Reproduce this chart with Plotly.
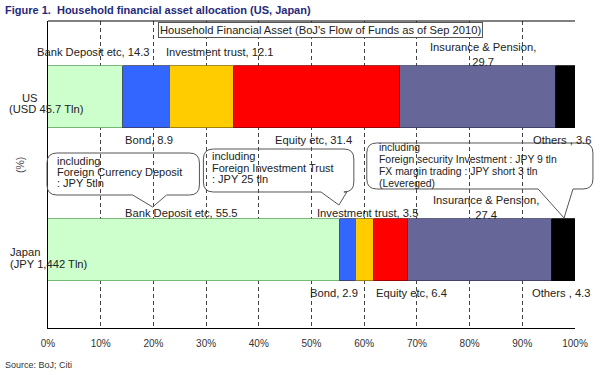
import plotly.graph_objects as go

# ---------------- data ----------------
countries = ["Japan", "US"]
segments = ["Bank Deposit etc", "Bond", "Investment trust", "Equity etc",
            "Insurance & Pension", "Others"]
us_values = [14.3, 8.9, 12.1, 31.4, 29.7, 3.6]
japan_values = [55.5, 2.9, 3.5, 6.4, 27.4, 4.3]
x_ticks = [0, 10, 20, 30, 40, 50, 60, 70, 80, 90, 100]
tick_labels = [f"{t}%" for t in x_ticks]
label_names = ["Bank Deposit etc", "Bond", "Investment trust", "Equity etc",
               "Insurance & Pension", "Others "]
label_seps = [", ", ", ", ", ", ", ", ",<br>", ", "]
country_labels = {"US": ["US", "(USD 45.7 Tln)"], "Japan": ["Japan", "(JPY 1,442 Tln)"]}
callout_lines = [
    ["including", "Foreign Currency Deposit", ": JPY 5tln"],
    ["including", "Foreign Investment Trust", ": JPY 25 tln"],
    ["including", "Foreign security Investment : JPY 9 tln",
     "FX margin trading : JPY short 3 tln", "(Levereged)"],
]

# ---------------- styles ----------------
colors = ["#CCFFCC", "#3366FF", "#FFCC00", "#FF0000", "#666699", "#000000"]
edges = ["#5FA85F", "#3A3A60", "#8A7000", "#8A0000", "#3A3A60", "#000000"]
FONT = "Liberation Sans, Arial, sans-serif"
TXT = "#222222"
LBL = 11.2

W, H = 600, 375
L, R, T, B = 48, 577, 21, 328


def px(x):
    return (x - L) / (R - L)


def py(y):
    return (B - y) / (B - T)


fig = go.Figure()
for i, seg in enumerate(segments):
    fig.add_trace(go.Bar(
        y=countries,
        x=[japan_values[i], us_values[i]],
        orientation="h",
        name=seg,
        width=0.405,
        marker=dict(color=colors[i], line=dict(color=edges[i], width=0.8)),
        showlegend=False,
    ))

annotations = []


def add_text(text, x, y, xanchor="center", align="center", size=LBL, **kw):
    annotations.append(dict(
        text=text, x=px(x), y=py(y), xref="paper", yref="paper",
        xanchor=xanchor, yanchor="middle", align=align, showarrow=False,
        font=dict(family=FONT, size=size, color=kw.pop("color", TXT),
                  weight=kw.pop("weight", "normal")), **kw))


# segment labels (text built from data)
us_pos = [(94, 52), (149, 140), (221, 52), (315, 140), (485, 54), (564, 140)]
jp_pos = [(182.5, 213), (335, 293), (368.5, 213), (413, 293), (488, 207.5), (563, 293)]
for i in range(len(segments)):
    add_text(f"{label_names[i]}{label_seps[i]}{us_values[i]}", *us_pos[i])
    add_text(f"{label_names[i]}{label_seps[i]}{japan_values[i]}", *jp_pos[i])

# country labels
add_text(country_labels["US"][0], 29.5, 98)
add_text(country_labels["US"][1], 7, 109, xanchor="left")
add_text(country_labels["Japan"][0], 8, 252, xanchor="left")
add_text(country_labels["Japan"][1], 8, 264, xanchor="left")

# axis unit
add_text("(%)", 20, 165, textangle=-90, color="#444", size=10.5)

# boxed subtitle
add_text("Household Financial Asset (BoJ's Flow of Funds as of Sep 2010)", 322, 30,
         size=11.2, bordercolor="#555555", borderwidth=1, borderpad=1, bgcolor="white")

# callout texts (one annotation per line)
callout_layout = [(55, 161, 11, 11.0), (211, 156, 11.5, 11.0), (378, 147, 12, 10.4)]
for lines, (x0, y0, step, size) in zip(callout_lines, callout_layout):
    for k, line in enumerate(lines):
        add_text(line, x0, y0 + k * step, xanchor="left", align="left", size=size)

# title & source
add_text("Figure 1.  Household financial asset allocation (US, Japan)", 3, 10,
         xanchor="left", size=11, color="#1F2A7A", weight="bold")
add_text("Source: BoJ; Citi", 3, 365, xanchor="left", size=9, color="#333")


def callout_path(x0, y0, x1, y1, bx0, bx1, tx, ty, r=10):
    def P(x, y):
        return f"{px(x):.5f},{py(y):.5f}"
    pts = [
        f"M{P(x0 + r, y0)}",
        f"L{P(x1 - r, y0)}",
        f"Q{P(x1, y0)} {P(x1, y0 + r)}",
        f"L{P(x1, y1 - r)}",
        f"Q{P(x1, y1)} {P(x1 - r, y1)}",
        f"L{P(bx1, y1)}",
        f"L{P(tx, ty)}",
        f"L{P(bx0, y1)}",
        f"L{P(x0 + r, y1)}",
        f"Q{P(x0, y1)} {P(x0, y1 - r)}",
        f"L{P(x0, y0 + r)}",
        f"Q{P(x0, y0)} {P(x0 + r, y0)}",
        "Z",
    ]
    return " ".join(pts)


shapes = [
    dict(type="line", xref="paper", yref="paper", x0=0, x1=1, y0=1, y1=1,
         line=dict(color="black", width=1)),
    dict(type="path", xref="paper", yref="paper",
         path=callout_path(47, 153, 200, 195, 133, 167, 153, 207),
         line=dict(color="#555555", width=1)),
    dict(type="path", xref="paper", yref="paper",
         path=callout_path(204, 149, 355, 192, 322, 348, 340, 205),
         line=dict(color="#555555", width=1)),
    dict(type="path", xref="paper", yref="paper",
         path=callout_path(368, 143, 595, 189, 540, 575, 566, 218),
         line=dict(color="#555555", width=1)),
]

fig.update_layout(
    width=W, height=H, autosize=False,
    margin=dict(l=L, r=W - R, t=T, b=H - B, pad=0),
    barmode="stack", bargap=0,
    plot_bgcolor="white", paper_bgcolor="white",
    font=dict(family=FONT, size=10, color=TXT),
    annotations=annotations, shapes=shapes,
    xaxis=dict(range=[0, 100], tickvals=x_ticks, ticktext=tick_labels,
               showgrid=True, gridcolor="#444444", griddash="4px,3px", gridwidth=1,
               showline=True, linecolor="black", linewidth=1, zeroline=False,
               ticks="outside", ticklen=6, tickcolor="rgba(0,0,0,0)",
               tickfont=dict(family=FONT, size=10, color="#333")),
    yaxis=dict(type="category", categoryarray=countries, range=[-0.51, 1.5],
               showticklabels=False, showgrid=False, zeroline=False,
               showline=True, linecolor="black", linewidth=1, ticks=""),
)

fig.write_html("out.html", config={"displayModeBar": False},
               post_script="document.body.style.margin='0';document.body.style.padding='0';")
